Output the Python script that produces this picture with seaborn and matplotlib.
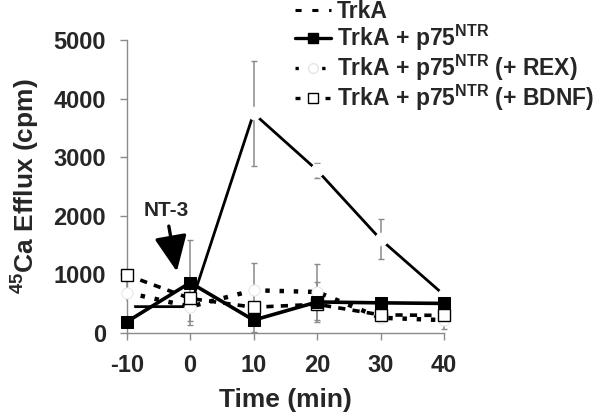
import numpy as np
import pandas as pd
import matplotlib
matplotlib.use("Agg")
import matplotlib.pyplot as plt
from matplotlib.lines import Line2D
import seaborn as sns

# values
time_min = [-10, 0, 10, 20, 30, 40]
series_names = ["TrkA", r"TrkA + p75$^{\mathrm{NTR}}$", r"TrkA + p75$^{\mathrm{NTR}}$ (+ REX)",
                r"TrkA + p75$^{\mathrm{NTR}}$ (+ BDNF)"]
trka = [450, 450, 3750, 2780, 1600, 650]
trka_p75 = [190, 860, 220, 530, 515, 505]
trka_p75_rex = [690, 450, 730, 700, 260, 220]
trka_p75_bdnf = [990, 590, 440, 490, 310, 300]
trka_err = [0, 0, 900, 130, 340, 0]
trka_p75_err = [0, 720, 200, 340, 0, 0]
trka_p75_rex_err = [300, 250, 470, 470, 80, 150]
trka_p75_bdnf_err = [0, 0, 0, 0, 0, 60]

sns.set_theme(style="white")
plt.rcParams['font.family'] = ['Liberation Sans', 'DejaVu Sans']
plt.rcParams['font.weight'] = 'bold'
plt.rcParams['axes.unicode_minus'] = False
plt.rcParams['mathtext.fontset'] = 'custom'
plt.rcParams['mathtext.rm'] = 'Liberation Sans:bold'
plt.rcParams['mathtext.it'] = 'Liberation Sans:bold'
plt.rcParams['mathtext.bf'] = 'Liberation Sans:bold'

values = [trka, trka_p75, trka_p75_rex, trka_p75_bdnf]
errors = [trka_err, trka_p75_err, trka_p75_rex_err, trka_p75_bdnf_err]
data = pd.DataFrame({
    "Time": time_min * 4,
    "Efflux": np.concatenate(values),
    "Err": np.concatenate(errors),
    "Series": np.repeat(series_names, len(time_min)),
})

fig = plt.figure(figsize=(6.02, 4.16), dpi=100)
ax = fig.add_axes([0.2105, 0.1995, 0.527, 0.704])

# error bars (grey, behind the lines), clipped at zero
for name in series_names:
    d = data[data["Series"] == name]
    d = d[d["Err"] > 0]
    lower = np.minimum(d["Err"], d["Efflux"])
    ax.errorbar(d["Time"], d["Efflux"], yerr=[lower, d["Err"]], fmt="none",
                ecolor="#8a8a8a", elinewidth=1.1, capsize=2.5, capthick=1.0,
                zorder=1, clip_on=False)

styles = {
    series_names[0]: dict(linestyle="-", linewidth=2.0, marker="o", markersize=9,
                          markerfacecolor="white", markeredgecolor="white", zorder=2),
    series_names[2]: dict(linestyle=(0, (1.0, 2.2)), linewidth=3.2, marker="o", markersize=8,
                          markerfacecolor="white", markeredgecolor="#e6e6e6", zorder=3),
    series_names[3]: dict(linestyle=(0, (2.0, 2.0)), linewidth=2.6, marker="s", markersize=8,
                          markerfacecolor="white", markeredgecolor="black",
                          markeredgewidth=1.0, zorder=4),
    series_names[1]: dict(linestyle="-", linewidth=2.6, marker="s", markersize=9,
                          markerfacecolor="black", markeredgecolor="black", zorder=5),
}
for name, kw in styles.items():
    sns.lineplot(data=data[data["Series"] == name], x="Time", y="Efflux", color="black",
                 errorbar=None, sort=False, ax=ax, clip_on=False, **kw)

ax.set_xlim(-10, 40)
ax.set_ylim(0, 5000)
ax.set_xticks(time_min)
ax.set_yticks([0, 1000, 2000, 3000, 4000, 5000])
ax.tick_params(axis="both", which="major", labelsize=17, length=5, width=1,
               color="#8a8a8a", pad=10, bottom=True, left=True)
for lab in ax.get_xticklabels() + ax.get_yticklabels():
    lab.set_fontweight("bold")
for side in ["top", "right"]:
    ax.spines[side].set_visible(False)
for side in ["left", "bottom"]:
    ax.spines[side].set_color("#8a8a8a")
    ax.spines[side].set_linewidth(1.0)

ax.set_xlabel("Time (min)", fontsize=19, fontweight="bold", labelpad=8)
ax.set_ylabel(r"$^{\mathrm{45}}$Ca Efflux (cpm)", fontsize=19, fontweight="bold", labelpad=8)

ax.annotate("NT-3", xy=(-2.1, 1050), xytext=(-3.8, 2090), ha="center", va="center",
            fontsize=15, fontweight="bold",
            arrowprops=dict(arrowstyle="-|>,head_length=1.1,head_width=0.5",
                            color="black", lw=2.4, mutation_scale=20, shrinkA=2, shrinkB=0))

handles = [
    Line2D([], [], color="black", lw=2.2, linestyle=(0, (2.0, 3.5))),
    Line2D([], [], color="black", lw=2.4, marker="s", markersize=7),
    Line2D([], [], color="black", lw=2.4, linestyle=(0, (1.0, 3.0)), marker="o",
           markersize=7, markerfacecolor="white", markeredgecolor="#e6e6e6"),
    Line2D([], [], color="black", lw=2.4, linestyle=(0, (1.5, 3.0)), marker="s",
           markersize=7, markerfacecolor="white", markeredgecolor="black", markeredgewidth=1.0),
]
leg = fig.legend(handles, series_names, loc="upper left", bbox_to_anchor=(0.482, 1.012),
                 frameon=False, fontsize=16.5, handlelength=1.6, handletextpad=0.25,
                 labelspacing=0.0, borderaxespad=0, borderpad=0.2)
for t in leg.get_texts():
    t.set_fontweight("bold")

fig.savefig("out.png", dpi=100)
